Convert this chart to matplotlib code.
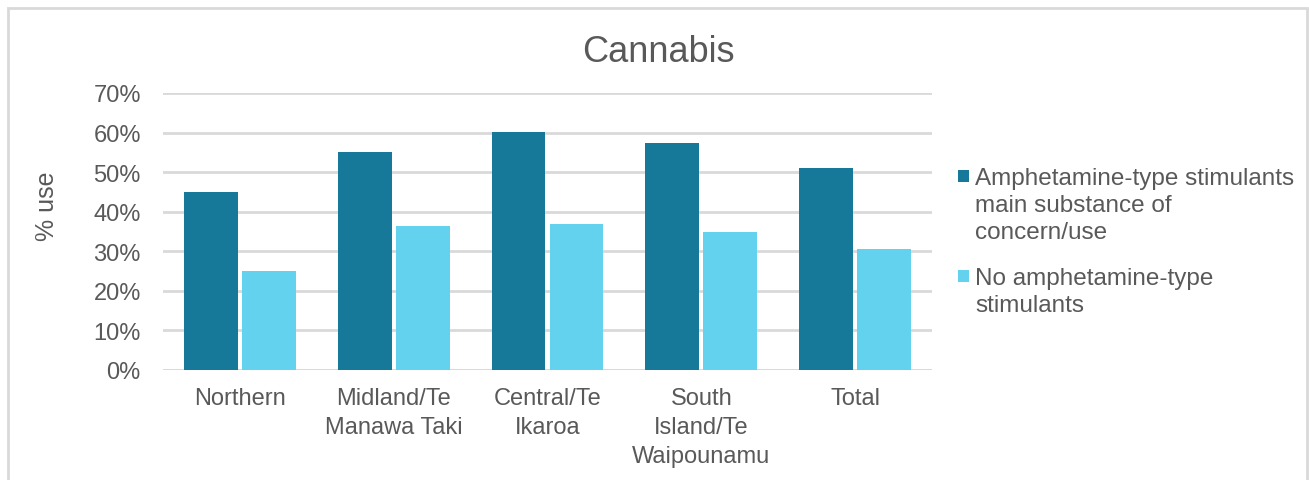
import matplotlib
matplotlib.use("Agg")
import matplotlib.pyplot as plt
import numpy as np
from matplotlib.patches import Rectangle

plt.rcParams['font.family'] = ['Liberation Sans', 'DejaVu Sans']

regions = ["Northern", "Midland/Te\nManawa Taki", "Central/Te\nIkaroa",
           "South\nIsland/Te\nWaipounamu", "Total"]
ats_main = [0.45, 0.55, 0.602, 0.573, 0.511]
no_ats = [0.251, 0.365, 0.369, 0.349, 0.306]
series_names = ["Amphetamine-type stimulants\nmain substance of\nconcern/use",
                "No amphetamine-type\nstimulants"]

dark = '#16799A'
light = '#63D2EE'
text_col = '#595959'
grid_col = '#D9D9D9'

W, H = 1309, 481
fig = plt.figure(figsize=(W / 100, H / 100), dpi=100)
ax = fig.add_axes([163 / W, 1 - 371 / H, (932 - 163) / W, (371 - 94) / H])

x = np.arange(len(regions))
w = 0.35
off = 0.189
ax.bar(x - off, ats_main, w, color=dark, zorder=3)
ax.bar(x + off, no_ats, w, color=light, zorder=3)

ax.set_xlim(-0.5, len(regions) - 0.5)
ax.set_ylim(0, 0.7)
yt = np.arange(0, 0.71, 0.1)
ax.set_yticks(yt)
ax.set_yticklabels([f"{int(round(v * 100))}%" for v in yt])
ax.set_xticks(x)
ax.set_xticklabels(regions, linespacing=1.43)
ax.tick_params(axis='both', length=0, labelsize=17, colors=text_col)
ax.tick_params(axis='x', pad=12)
ax.tick_params(axis='y', pad=16)
ax.yaxis.grid(True, color=grid_col, linewidth=2, zorder=0)
for s in ax.spines.values():
    s.set_visible(False)
ax.axhline(0, color=grid_col, linewidth=2, zorder=2)

fig.text(47 / W, 1 - 206 / H, "% use", rotation=90, ha='center', va='center',
         fontsize=18, color=text_col)
fig.text(658 / W, 1 - 52 / H, "Cannabis", ha='center', va='center', fontsize=26, color=text_col)

# legend drawn by hand so the swatch sits on the first text line
for name, col, top in [(series_names[0], dark, 168), (series_names[1], light, 268)]:
    fig.patches.append(Rectangle((958 / W, 1 - (top + 15) / H), 11 / W, 12 / H,
                                 transform=fig.transFigure, facecolor=col, edgecolor='none'))
    fig.text(975 / W, 1 - top / H, name, ha='left', va='top', fontsize=17.5,
             color=text_col, linespacing=1.29)

fig.patches.append(Rectangle((8 / W, -0.01), (1307 - 8) / W, 1 - 9 / H + 0.01,
                             transform=fig.transFigure, fill=False,
                             edgecolor='#D9D9D9', linewidth=2))

fig.savefig("out.png", dpi=100)
